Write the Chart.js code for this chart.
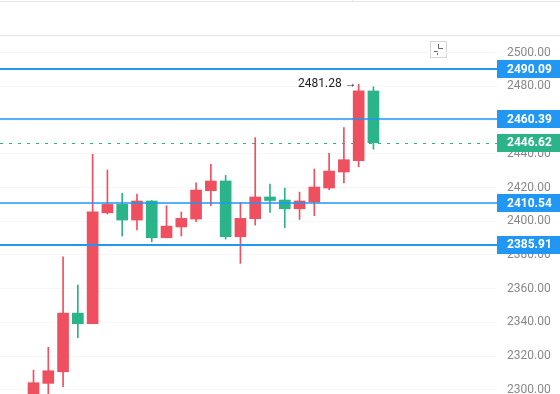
<!DOCTYPE html>
<html>
<head>
<meta charset="utf-8">
<script src="https://cdn.jsdelivr.net/npm/chart.js@4.4.1/dist/chart.umd.min.js"></script>
<style>
  html,body{margin:0;padding:0;background:#fff;}
  #wrap{width:560px;height:394px;position:relative;}
</style>
</head>
<body>
<div id="wrap"><canvas id="kline" width="560" height="394"></canvas></div>
<script>
/* Candles: red = up, green = down */
var CANDLES=[1,2,3,4,5,6,7,8,9,10,11,12,13,14,15,16,17,18,19,20,21,22,23,24];
var OPEN =[2294.0,2303.8,2310.7,2345.5,2339.2,2405.0,2410.0,2400.7,2412.0,2390.2,2396.6,2401.3,2418.1,2423.9,2390.8,2401.5,2414.4,2412.6,2407.4,2411.4,2419.7,2429.2,2435.9,2477.3];
var HIGH =[2311.7,2325.2,2378.9,2362.1,2439.7,2430.4,2416.6,2416.1,2412.3,2409.2,2405.5,2422.8,2433.8,2427.2,2411.1,2449.6,2422.1,2419.7,2417.3,2431.0,2440.3,2455.5,2481.28,2479.8];
var LOW  =[2290.0,2294.0,2301.8,2330.9,2339.2,2404.3,2391.2,2394.8,2387.8,2390.2,2391.2,2399.7,2409.2,2389.4,2375.0,2397.7,2405.2,2396.1,2401.1,2403.3,2418.7,2422.8,2432.3,2442.7];
var CLOSE=[2304.2,2311.3,2345.5,2339.2,2405.6,2410.0,2400.7,2412.0,2390.2,2397.1,2401.7,2418.5,2423.9,2390.8,2401.7,2414.4,2412.3,2407.4,2412.0,2420.3,2429.8,2436.5,2477.3,2446.62];
var Y_TICKS=[2300,2320,2340,2360,2380,2400,2420,2440,2460,2480,2500];
var LEVELS=[2490.09,2460.39,2410.54,2385.91];
var LEVEL_HEAVY=[true,false,false,true];

var UP='#ef5060', DOWN='#2bb38a', BLUE='#2196f3';
var AXIS_W=63;

function candleColor(i){ return CLOSE[i]>=OPEN[i]?UP:DOWN; }
var colors=CANDLES.map(function(_,i){ return candleColor(i); });

// pane decoration + last price line (under candles)
// levels, axis boxes, high marker (over candles)
var overlay={
  id:'overlay',
  beforeDraw:function(chart){
    var c=chart.ctx;
    c.save();
    c.strokeStyle='#e6e6e6';c.lineWidth=1;
    c.beginPath();
    c.moveTo(0,1.5);c.lineTo(560,1.5);
    c.moveTo(0,35.5);c.lineTo(560,35.5);
    c.moveTo(352.5,0);c.lineTo(352.5,2);
    c.stroke();
    // small icon
    c.strokeStyle='#d6d6d6';
    c.strokeRect(430.5,41.5,16,16);
    c.strokeStyle='#666';
    c.beginPath();
    c.moveTo(438.5,44);c.lineTo(438.5,48.5);c.lineTo(443,48.5);
    c.moveTo(434,51.5);c.lineTo(437.5,51.5);c.lineTo(437.5,55);
    c.stroke();
    c.restore();
  },
  beforeDatasetsDraw:function(chart){
    var c=chart.ctx, y=chart.scales.y, a=chart.chartArea;
    var last=CLOSE[CLOSE.length-1];
    var lp=Math.round(y.getPixelForValue(last))+0.5;
    c.save();
    c.strokeStyle=DOWN;c.lineWidth=1;c.setLineDash([3,6]);
    c.beginPath();c.moveTo(a.left,lp);c.lineTo(a.right,lp);c.stroke();
    c.restore();
  },
  afterDatasetsDraw:function(chart){
    var c=chart.ctx, y=chart.scales.y, x=chart.scales.x, a=chart.chartArea;
    c.save();
    LEVELS.forEach(function(v,i){
      var py=Math.round(y.getPixelForValue(v));
      c.strokeStyle=BLUE;
      c.lineWidth=LEVEL_HEAVY[i]?2:1.5;
      c.beginPath();c.moveTo(a.left,py);c.lineTo(a.right,py);c.stroke();
    });
    // axis boxes
    c.font='bold 12px Roboto';
    c.textBaseline='middle';c.textAlign='left';
    function box(v,bg){
      var py=y.getPixelForValue(v);
      c.fillStyle=bg;
      c.fillRect(a.right,Math.round(py-9),560-a.right,18);
      c.fillStyle='#fff';
      c.fillText(v.toFixed(2),a.right+10,py+0.5);
    }
    LEVELS.forEach(function(v){ box(v,BLUE); });
    box(CLOSE[CLOSE.length-1],DOWN);
    // highest high marker
    var hi=0;
    HIGH.forEach(function(h,i){ if(h>HIGH[hi])hi=i; });
    var hx=x.getPixelForValue(CANDLES[hi]), hy=y.getPixelForValue(HIGH[hi]);
    c.font='12px Roboto';c.fillStyle='#222';c.textAlign='right';
    c.fillText(HIGH[hi].toFixed(2)+' \u2192',hx-2,hy);
    c.restore();
  }
};

var ctx=document.getElementById('kline');
new Chart(ctx,{
  type:'bar',
  data:{
    datasets:[
      {label:'wick',data:CANDLES.map(function(c,i){return{x:c,y:[LOW[i],HIGH[i]]};}),backgroundColor:colors,barThickness:1,grouped:false,order:2},
      {label:'body',data:CANDLES.map(function(c,i){return{x:c,y:[OPEN[i],CLOSE[i]]};}),backgroundColor:colors,barThickness:11,grouped:false,order:1}
    ]
  },
  options:{
    responsive:false,animation:false,
    layout:{autoPadding:false,padding:{top:36,left:0,right:0,bottom:0}},
    plugins:{legend:{display:false},tooltip:{enabled:false}},
    scales:{
      x:{type:'linear',display:false,offset:false,bounds:'data',min:-1.267,max:32.36,
        afterFit:function(s){ s.height=0; }},
      y:{
        position:'right',min:2297.5,max:2509.9,bounds:'data',
        grid:{color:'#f7f7f7',drawTicks:false},
        border:{display:false},
        ticks:{padding:10,color:'#888',font:{family:'Roboto',size:12},callback:function(v){return Number(v).toFixed(2);}},
        afterBuildTicks:function(s){ s.ticks=Y_TICKS.map(function(v){return{value:v};}); },
        // labels may run past the pane edge, like the original
        afterFit:function(s){ s.width=AXIS_W; s.paddingTop=0; s.paddingBottom=0; }
      }
    }
  },
  plugins:[overlay]
});
</script>
</body>
</html>
